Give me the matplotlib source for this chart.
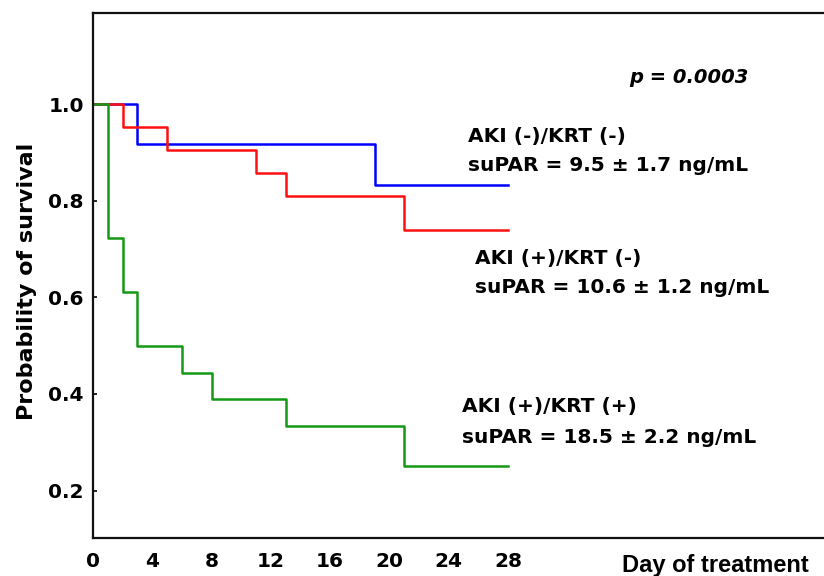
import matplotlib
matplotlib.use("Agg")
import matplotlib.pyplot as plt

# ---- data (Kaplan-Meier step curves) ----
blue_days = [0, 3, 19, 28]
blue_surv = [1.0, 0.917, 0.833, 0.833]

red_days = [0, 2, 5, 11, 13, 21, 28]
red_surv = [1.0, 0.952, 0.905, 0.857, 0.810, 0.740, 0.740]

green_days = [0, 1, 2, 3, 6, 8, 13, 21, 28]
green_surv = [1.0, 0.722, 0.611, 0.500, 0.444, 0.389, 0.333, 0.250, 0.250]

x_ticks = [0, 4, 8, 12, 16, 20, 24, 28]
y_ticks = [0.2, 0.4, 0.6, 0.8, 1.0]
y_tick_labels = ["0.2", "0.4", "0.6", "0.8", "1.0"]

label_blue = ["AKI (-)/KRT (-)", "suPAR = 9.5 \u00b1 1.7 ng/mL"]
label_red = ["AKI (+)/KRT (-)", "suPAR = 10.6 \u00b1 1.2 ng/mL"]
label_green = ["AKI (+)/KRT (+)", "suPAR = 18.5 \u00b1 2.2 ng/mL"]
p_text = "p = 0.0003"

W, H = 824, 576
fig = plt.figure(figsize=(W / 100, H / 100), dpi=100)
fig.patch.set_facecolor("white")

def px(x, y):
    return x / W, 1 - y / H

left, right, top, bottom = 93, 834, 12.7, 538
ax = fig.add_axes([left / W, 1 - bottom / H, (right - left) / W, (bottom - top) / H])
ax.set_xlim(0, 50)
ax.set_ylim(0.102, 1.189)

lw = 1.8
ax.step(blue_days, blue_surv, where="post", color="#0000ff", lw=lw)
ax.step(red_days, red_surv, where="post", color="#ff1010", lw=lw)
ax.step(green_days, green_surv, where="post", color="#159915", lw=lw)

for s in ax.spines.values():
    s.set_linewidth(1.6)
    s.set_color("#111111")

ax.set_xticks(x_ticks)
ax.set_xticklabels([str(t) for t in x_ticks])
ax.set_yticks(y_ticks)
ax.set_yticklabels(y_tick_labels)
ax.tick_params(axis="x", length=0, pad=10, labelsize=14.5)
ax.tick_params(axis="y", direction="in", length=3, width=1.2, pad=6.5, labelsize=14.5)
for lab in ax.get_xticklabels() + ax.get_yticklabels():
    lab.set_fontweight("bold")
    lab.set_family("DejaVu Sans")

fs = 14.5
fig.text(*px(27, 281), "Probability of survival", rotation=90, ha="center", va="center",
         fontsize=16, fontweight="bold", family="DejaVu Sans")
fig.text(*px(622, 572), "Day of treatment", ha="left", va="baseline",
         fontsize=17, fontweight="bold", family="Liberation Sans")

fig.text(*px(629, 83), p_text, ha="left", va="baseline", fontsize=14,
         fontweight="bold", fontstyle="italic", family="DejaVu Sans")

def group(lines, x, y1, y2):
    fig.text(*px(x, y1), lines[0], ha="left", va="baseline", fontsize=fs,
             fontweight="bold", family="DejaVu Sans")
    fig.text(*px(x, y2), lines[1], ha="left", va="baseline", fontsize=fs,
             fontweight="bold", family="DejaVu Sans")

group(label_blue, 468, 142, 171)
group(label_red, 475, 264, 293)
group(label_green, 462, 412, 443)

fig.savefig("out.png", dpi=100, facecolor="white")
